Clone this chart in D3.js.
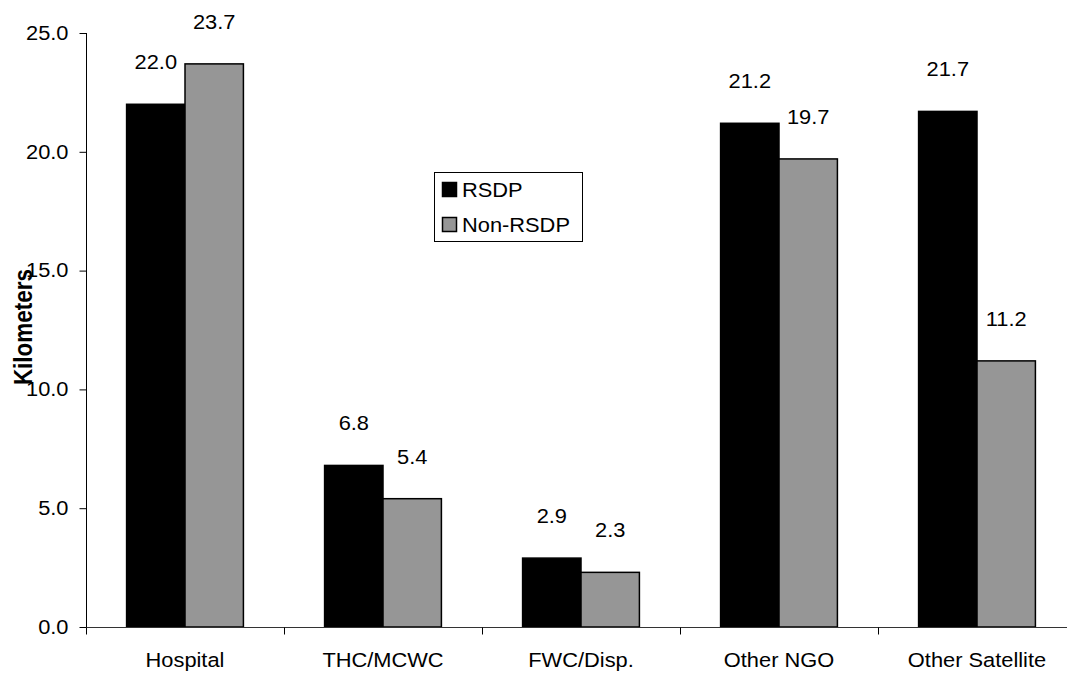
<!DOCTYPE html>
<html>
<head>
<meta charset="utf-8">
<script src="https://cdn.jsdelivr.net/npm/d3@7"></script>
<style>
  html, body { margin: 0; padding: 0; background: #fff; }
  svg { display: block; }
  text { font-family: "Liberation Sans", Arial, sans-serif; fill: #000; }
</style>
</head>
<body>
<svg id="chart" width="1067" height="677"></svg>
<script>
// Average distance to facility, by facility type
const categories = ["Hospital", "THC/MCWC", "FWC/Disp.", "Other NGO", "Other Satellite"];
const seriesNames = ["RSDP", "Non-RSDP"];
const rsdpValues = [22.0, 6.8, 2.9, 21.2, 21.7];
const nonRsdpValues = [23.7, 5.4, 2.3, 19.7, 11.2];
const yTicks = [0, 5, 10, 15, 20, 25];
const yTitle = "Kilometers";

const colors = { "RSDP": "#000000", "Non-RSDP": "#969696" };
const FS = 19.5;      // base font size
const SX = 1.12;      // horizontal text stretch

const rows = categories.map((c, i) => ({
  category: c,
  values: [
    { series: "RSDP", value: rsdpValues[i] },
    { series: "Non-RSDP", value: nonRsdpValues[i] }
  ]
}));

const svg = d3.select("#chart");
const plotLeft = 86, plotBottom = 627, plotTop = 33;
const bandW = 198;

const x0 = d3.scaleBand()
  .domain(categories)
  .range([plotLeft, plotLeft + bandW * categories.length])
  .padding(0);

const gap = x0.bandwidth() * 0.41;
const x1 = d3.scaleBand()
  .domain(seriesNames)
  .range([gap / 2, x0.bandwidth() - gap / 2])
  .padding(0);

const y = d3.scaleLinear().domain([0, 25]).range([plotBottom, plotTop]);

// Bars
const groups = svg.append("g").selectAll("g")
  .data(rows).join("g")
  .attr("transform", d => `translate(${x0(d.category)},0)`);

groups.selectAll("rect")
  .data(d => d.values).join("rect")
  .attr("x", d => x1(d.series))
  .attr("y", d => y(d.value))
  .attr("width", x1.bandwidth())
  .attr("height", d => y(0) - y(d.value))
  .attr("fill", d => colors[d.series])
  .attr("stroke", "#000")
  .attr("stroke-width", 1.5);

// Value labels
groups.selectAll("text.val")
  .data(d => d.values).join("text")
  .attr("class", "val")
  .attr("text-anchor", "middle")
  .attr("font-size", FS)
  .attr("transform", d => `translate(${x1(d.series) + x1.bandwidth() / 2},${y(d.value) - 35}) scale(${SX},1)`)
  .text(d => d.value.toFixed(1));

// Y axis
const yAxis = svg.append("g")
  .attr("transform", `translate(${plotLeft + 0.5},0)`)
  .call(d3.axisLeft(y).tickValues(yTicks).tickFormat(d3.format(".1f")).tickSize(7).tickPadding(11));
yAxis.select(".domain").attr("stroke", "#000").attr("d", `M0,${plotTop}V${plotBottom}`);
yAxis.selectAll(".tick line").attr("stroke", "#000");
yAxis.selectAll(".tick text")
  .attr("font-size", FS)
  .attr("font-family", "Liberation Sans, Arial, sans-serif")
  .attr("x", -18 / SX)
  .attr("transform", `scale(${SX},1)`);

// X axis: line, boundary ticks, centered labels
const xAxis = svg.append("g")
  .attr("transform", `translate(0,${plotBottom + 0.5})`)
  .call(d3.axisBottom(x0).tickSize(0).tickPadding(0));
xAxis.select(".domain").attr("stroke", "#333").attr("d", `M${plotLeft},0H${x0.range()[1]}`);
xAxis.selectAll(".tick text")
  .attr("font-size", FS)
  .attr("font-family", "Liberation Sans, Arial, sans-serif")
  .attr("y", 40).attr("dy", 0).attr("x", 0)
  .attr("transform", `scale(${SX},1)`);
const boundaries = categories.map(c => x0(c)).concat([x0.range()[1]]);
xAxis.selectAll("line.bnd")
  .data(boundaries).join("line")
  .attr("class", "bnd")
  .attr("x1", d => d + 0.5).attr("x2", d => d + 0.5)
  .attr("y1", 0).attr("y2", 7)
  .attr("stroke", "#000");

// Y axis title
svg.append("text")
  .attr("text-anchor", "middle")
  .attr("font-size", 22.5)
  .attr("font-weight", "bold")
  .attr("transform", `translate(32,327) scale(${SX},1) rotate(-90)`)
  .text(yTitle);

// Legend
const legend = svg.append("g");
legend.append("rect")
  .attr("x", 434.5).attr("y", 172.5)
  .attr("width", 148).attr("height", 69)
  .attr("fill", "#fff").attr("stroke", "#000").attr("stroke-width", 1);
seriesNames.forEach((s, i) => {
  const yy = 182 + i * 35;
  legend.append("rect")
    .attr("x", 442.5).attr("y", yy + 0.5)
    .attr("width", 14).attr("height", 14)
    .attr("fill", colors[s]).attr("stroke", "#000").attr("stroke-width", 1.5);
  legend.append("text")
    .attr("font-size", FS)
    .attr("transform", `translate(462,${yy + 15}) scale(${SX},1)`)
    .text(s);
});
</script>
</body>
</html>
